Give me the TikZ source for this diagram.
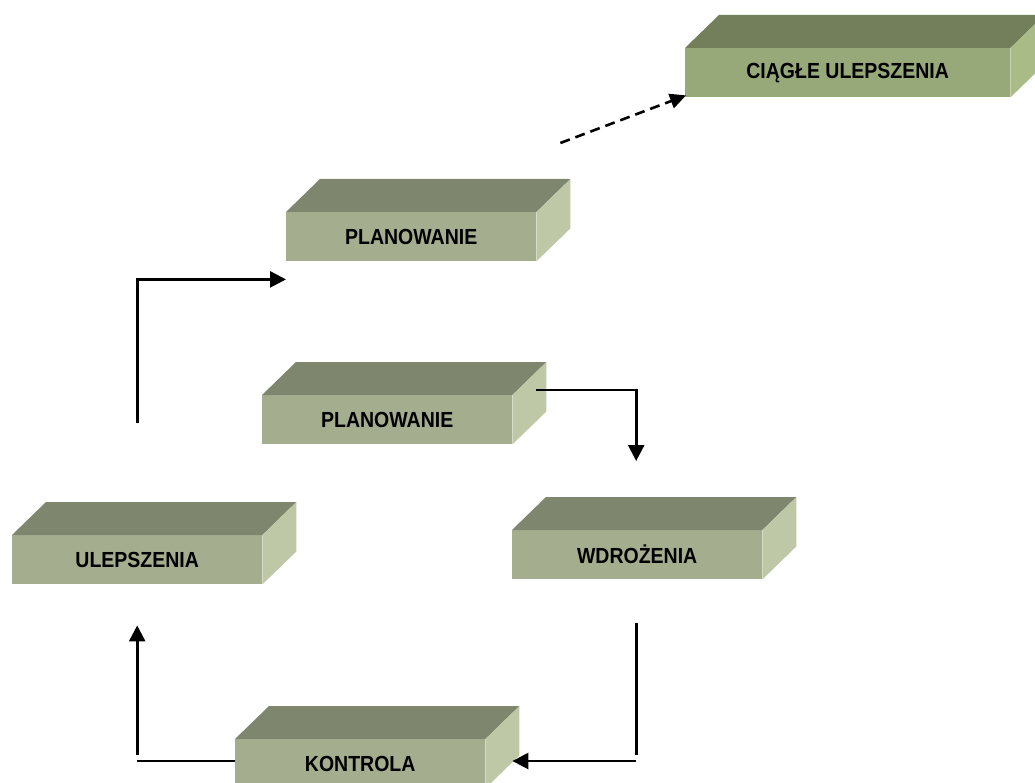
\documentclass[tikz,border=0pt]{standalone}
\usepackage{fontspec}
\usepackage{graphicx}
\setmainfont{Liberation Sans}
\usetikzlibrary{arrows.meta,calc}
\definecolor{gfront}{HTML}{A4AE8F}
\definecolor{gtop}{HTML}{7E866D}
\definecolor{gside}{HTML}{BEC8A6}
\definecolor{vfront}{HTML}{97A978}
\definecolor{vtop}{HTML}{737F5B}
\definecolor{vside}{HTML}{A9BB86}
\newcommand{\boxlabel}[1]{\scalebox{1}[1.12]{\fontsize{19.5}{20}\selectfont\bfseries #1}}
\newcommand{\slabface}[4]{%
  \fill[#3] (#1.north west) -- ++(34,-33) -- ($(#1.north east)+(34,-33)$) -- (#1.north east) -- cycle;
  \fill[#4] (#1.north east) -- ++(34,-33) -- ($(#1.south east)+(34,-33)$) -- (#1.south east) -- cycle;
}
\tikzset{
  front/.style={rectangle, inner sep=0pt, minimum height=49pt, anchor=north west, text=black},
  frontgrey/.style={front, fill=gfront, minimum width=250pt},
  frontgreen/.style={front, fill=vfront, minimum width=325pt},
  arr/.style={line width=2.6pt, -{Triangle[length=16pt,width=16pt]}},
  plain/.style={line width=2.6pt},
  dasharr/.style={line width=2.6pt, dash pattern=on 10pt off 6pt, -{Triangle[length=16pt,width=15pt]}}
}
\begin{document}
\begin{tikzpicture}[x=1pt,y=-1pt]
\useasboundingbox (0,0) rectangle (1035,783);
% boxes
\node[frontgreen] (ciag) at (685,48) {\boxlabel{CIĄGŁE ULEPSZENIA}};
\slabface{ciag}{}{vtop}{vside}
\node[frontgrey] (plana) at (286,212) {\boxlabel{PLANOWANIE}};
\slabface{plana}{}{gtop}{gside}
\node[frontgrey] (planb) at (262,395) {\boxlabel{PLANOWANIE}};
\slabface{planb}{}{gtop}{gside}
\node[frontgrey] (ulep) at (12,535) {\boxlabel{ULEPSZENIA}};
\slabface{ulep}{}{gtop}{gside}
\node[frontgrey] (wdro) at (512,530) {\boxlabel{WDROŻENIA}};
\slabface{wdro}{}{gtop}{gside}
\node[frontgrey] (kont) at (235,739) {\boxlabel{KONTROLA}};
\slabface{kont}{}{gtop}{gside}
% connector end points
\coordinate (u1) at ($(ulep.north)+(0,-112)$);
\coordinate (p1) at ($(plana.south west)+(0,18)$);
\coordinate (b1) at ($(planb.north east)+(24,-5)$);
\coordinate (w1) at ($(wdro.north)+(-1,-69)$);
\coordinate (w2) at ($(wdro.south)+(-1,44)$);
\coordinate (w3) at ($(wdro.south)+(-1,176)$);
\coordinate (k1) at ($(kont.north east)+(151,22)$);
\coordinate (k2) at ($(kont.north east)+(27,22)$);
\coordinate (k3) at ($(kont.north west)+(0,22)$);
\coordinate (k4) at ($(kont.north west)+(-98,22)$);
\coordinate (u2) at ($(ulep.south)+(0,171)$);
\coordinate (u3) at ($(ulep.south)+(0,41)$);
\coordinate (d1) at ($(plana.north east)+(24,-69)$);
\coordinate (d2) at ($(ciag.south west)+(1,-2)$);
% connectors
\draw[arr] (u1) |- (p1);
\draw[arr] (b1) -| (w1);
\draw[plain] (w2) -- (w3);
\draw[arr] (k1) -- (k2);
\draw[plain] (k3) -- (k4);
\draw[arr] (u2) -- (u3);
\draw[dasharr] (d1) -- (d2);
\end{tikzpicture}
\end{document}
